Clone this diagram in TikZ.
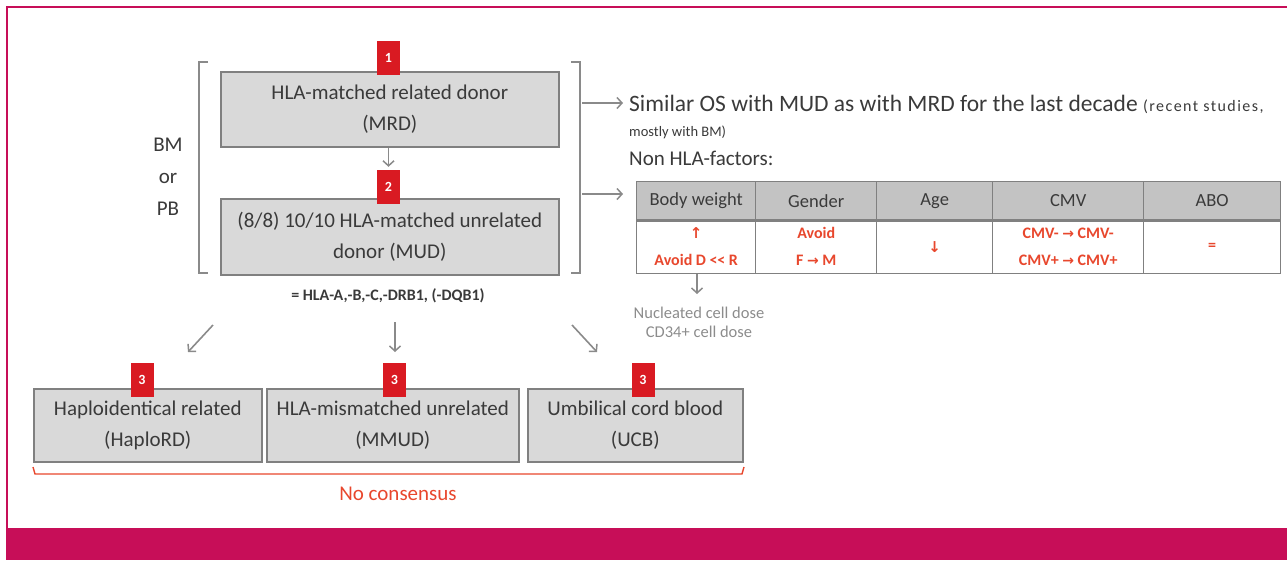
\documentclass[tikz,border=0pt]{standalone}
\usepackage{fontspec}
\setmainfont{Carlito}
\newfontfamily\symfont{DejaVu Sans}
\usetikzlibrary{arrows.meta}
\definecolor{magentaC}{HTML}{C70E58}
\definecolor{boxfill}{HTML}{D9D9D9}
\definecolor{boxline}{HTML}{808080}
\definecolor{txt}{HTML}{3A3A3A}
\definecolor{redC}{HTML}{E8472D}
\definecolor{badgeC}{HTML}{D91A22}
\definecolor{arrowC}{HTML}{8A8A8A}
\definecolor{hdrfill}{HTML}{C3C3C3}
\definecolor{grayT}{HTML}{8C8C8C}
\newcommand{\rar}{{\symfont\bfseries\fontsize{14pt}{14pt}\selectfont →}}
\newcommand{\symarrow}[1]{{\symfont\bfseries\fontsize{15pt}{15pt}\selectfont #1}}
\begin{document}
\begin{tikzpicture}[x=1pt,y=-1pt,
  donor/.style={draw=boxline, line width=1.6pt, fill=boxfill, text=txt, align=center,
    inner sep=0pt, anchor=north west, font=\fontsize{21pt}{31pt}\selectfont},
  badge/.style={fill=badgeC, text=white, font=\bfseries\fontsize{14pt}{14pt}\selectfont,
    minimum width=23pt, minimum height=34pt, inner sep=0pt},
  garrow/.style={draw=arrowC, line width=1.6pt, -{Straight Barb[length=5pt,width=11pt,line width=1.5pt]}},
  bracket/.style={draw=arrowC, line width=1.6pt},
  plain/.style={text=txt, inner sep=0pt},
  hdr/.style={draw=boxline, line width=1.4pt, fill=hdrfill, text=txt, inner sep=0pt,
    anchor=north west, minimum height=38pt, font=\fontsize{18.5pt}{19pt}\selectfont},
  dat/.style={draw=boxline, line width=1.4pt, fill=white, text=redC, inner sep=0pt, align=center,
    anchor=north west, minimum height=54pt, font=\bfseries\fontsize{16pt}{27pt}\selectfont},
]
\useasboundingbox (0,0) rectangle (1287,560);
% frame
\fill[magentaC] (6,528) rectangle (1287,560);
\draw[magentaC, line width=2.5pt] (7,528) -- (7,7) -- (1287,7);

% top donor boxes
\node[donor, minimum width=338pt, minimum height=75pt] (mrd) at (220,71) {HLA-matched related donor\\(MRD)};
\node[donor, minimum width=338pt, minimum height=76pt] (mud) at (220,198) {(8/8) 10/10 HLA-matched unrelated\\donor (MUD)};
\node[badge] (b1) at (388.5,58) {1};
\node[badge] (b2) at (388.5,187) {2};
\draw[garrow, shorten >=3pt] (mrd.south -| b2) -- (b2.north);

% brackets
\draw[bracket] (208,62) -- (199,62) -- (199,273) -- (208,273);
\draw[bracket] (571,62) -- (580,62) -- (580,273) -- (571,273);
\node[plain, align=center, font=\fontsize{21pt}{32pt}\selectfont] (bmpb) at (168,177) {BM\\or\\PB};
\node[plain, font=\bfseries\fontsize{16pt}{16pt}\selectfont] (hla) at (388,296) {= HLA-A,-B,-C,-DRB1, (-DQB1)};

% right side texts
\node[plain, anchor=west, font=\fontsize{23.5pt}{24pt}\selectfont] (sim) at (629,104) {Similar OS with MUD as with MRD for the last decade {\fontsize{16pt}{16pt}\selectfont\addfontfeatures{LetterSpace=9} (recent studies,}};
\node[plain, anchor=west, font=\fontsize{14.5pt}{15pt}\selectfont] (mostly) at (629,132) {mostly with BM)};
\node[plain, anchor=west, font=\fontsize{21pt}{22pt}\selectfont] (nonhla) at (629,158) {Non HLA-factors:};
\coordinate (ra1) at (582,103);
\coordinate (ra1e) at (623,103);
\coordinate (ra2) at (582,194);
\coordinate (ra2e) at (623,194);

% table
\node[hdr, minimum width=119pt] (h1) at (636,181) {Body weight};
\node[hdr, minimum width=121pt] (h2) at (755,181) {Gender};
\node[hdr, minimum width=116pt] (h3) at (876,181) {Age};
\node[hdr, minimum width=151pt] (h4) at (992,181) {CMV};
\node[hdr, minimum width=137pt] (h5) at (1143,181) {ABO};
\node[dat, minimum width=119pt] (d1) at (636,219) {\symarrow{↑}\\Avoid D <\kern-0.3pt< R};
\node[dat, minimum width=121pt] (d2) at (755,219) {Avoid\\F \rar{} M};
\node[dat, minimum width=116pt] (d3) at (876,219) {\symarrow{↓}};
\node[dat, minimum width=151pt] (d4) at (992,219) {CMV- \rar{} CMV-\\CMV+ \rar{} CMV+};
\node[dat, minimum width=137pt] (d5) at (1143,219) {=};
\draw[boxline, line width=2.2pt] (h1.south west) -- (h5.south east);

% arrows from bracket
\draw[garrow] (ra1) -- (ra1e);
\draw[garrow] (ra2) -- (ra2e);

% cell dose
\node[plain, text=grayT, font=\fontsize{16.5pt}{17pt}\selectfont] (ncd) at (699,313) {Nucleated cell dose};
\node[plain, text=grayT, font=\fontsize{16.5pt}{17pt}\selectfont] (cd34) at (699,332) {CD34+ cell dose};
\coordinate (tdose) at (697,274);
\coordinate (tdose2) at (697,294);
\draw[garrow] (tdose) -- (tdose2);

% bottom boxes
\node[donor, minimum width=228pt, minimum height=73pt] (haplo) at (33,388) {Haploidentical related\\(HaploRD)};
\node[donor, minimum width=252pt, minimum height=73pt] (mmud) at (266,388) {HLA-mismatched unrelated\\(MMUD)};
\node[donor, minimum width=215pt, minimum height=73pt] (ucb) at (527,388) {Umbilical cord blood\\(UCB)};
\node[badge] (b3a) at (142,380) {3};
\node[badge] (b3b) at (394.5,380) {3};
\node[badge] (b3c) at (643,380) {3};

% bottom arrows
\coordinate (la1) at (213,325); \coordinate (la2) at (188,352);
\coordinate (ma1) at (395,322); \coordinate (ma2) at (395,352);
\coordinate (rr1) at (572,325); \coordinate (rr2) at (597,352);
\draw[garrow] (la1) -- (la2);
\draw[garrow] (ma1) -- (ma2);
\draw[garrow] (rr1) -- (rr2);

% no consensus
\draw[redC, line width=1.4pt] (33,467) -- (35,474) -- (742,474) -- (744,467);
\node[plain, text=redC, font=\fontsize{21pt}{22pt}\selectfont] (nocon) at (398,494) {No consensus};
\end{tikzpicture}
\end{document}
